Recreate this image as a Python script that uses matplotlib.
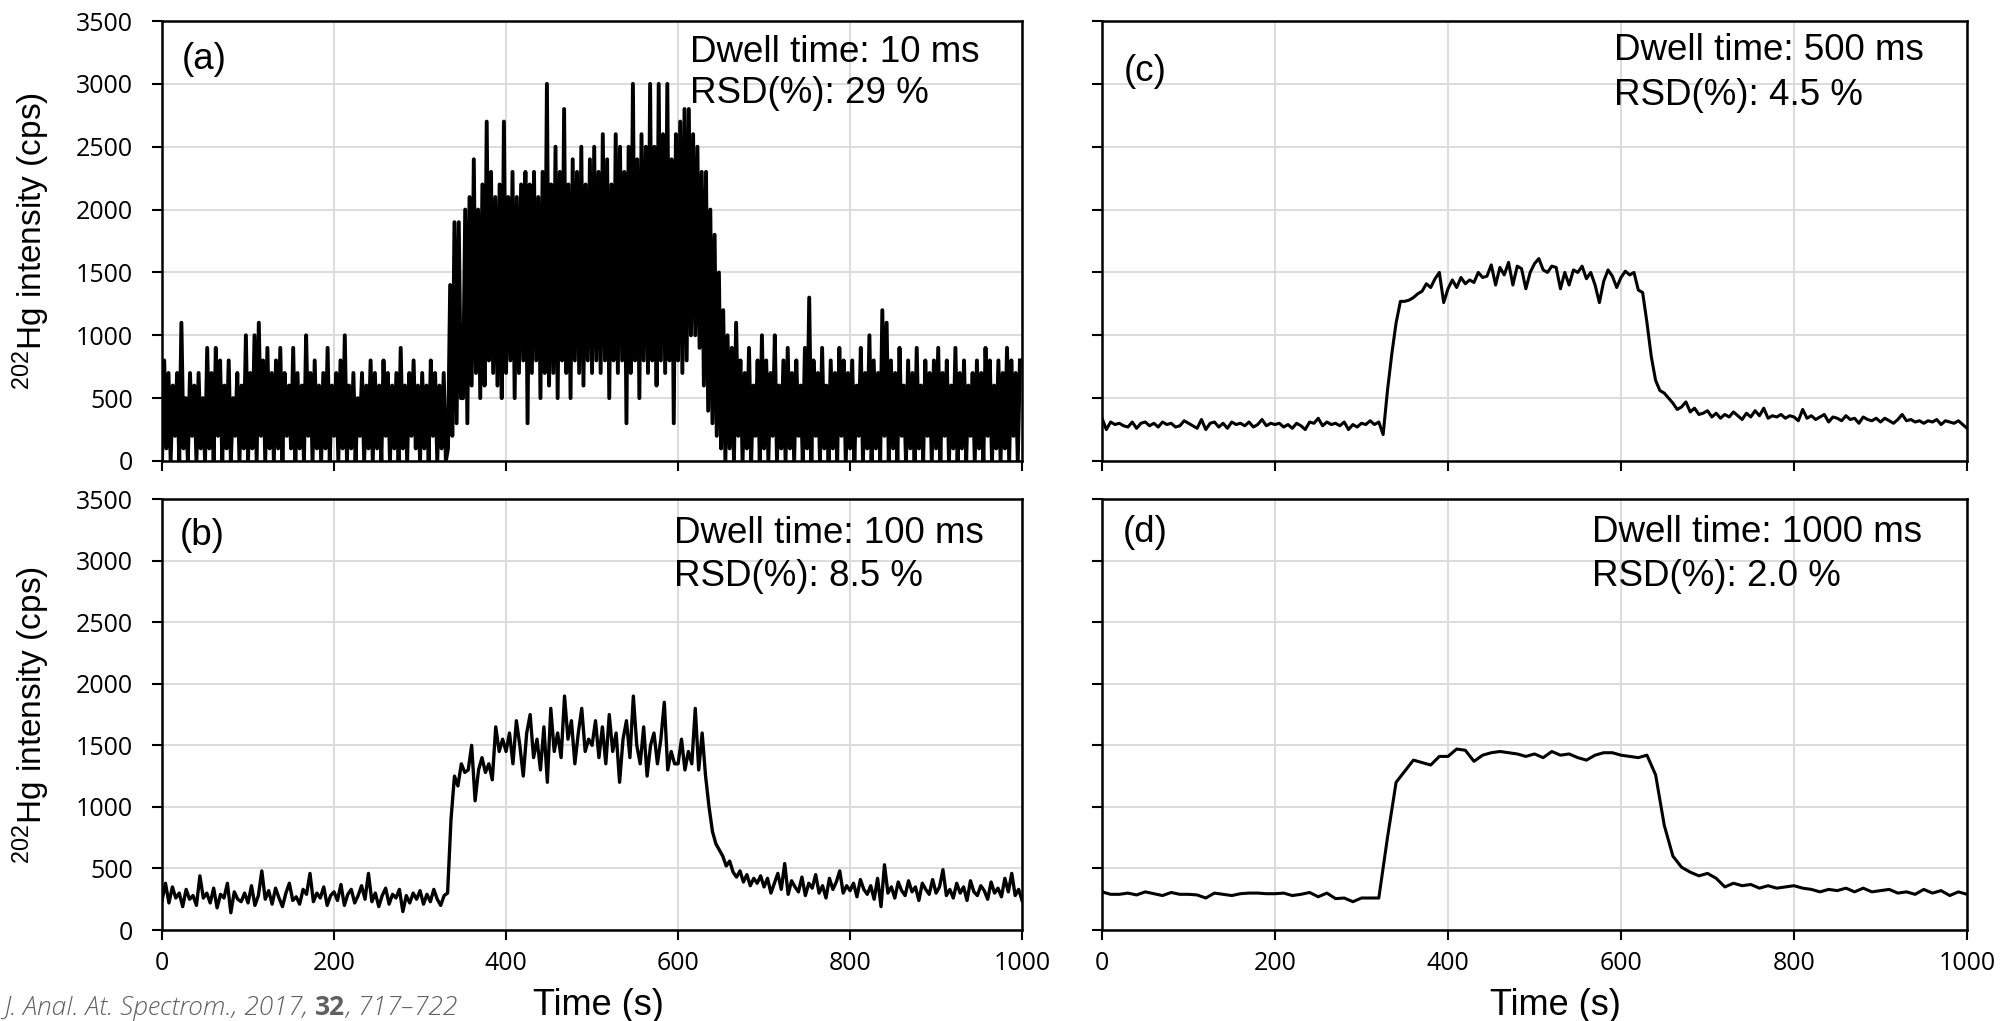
import numpy as np
import matplotlib
matplotlib.use('Agg')
import matplotlib.pyplot as plt

plt.rcParams['font.family'] = ['Liberation Sans', 'DejaVu Sans']
plt.rcParams['mathtext.fontset'] = 'custom'
plt.rcParams['mathtext.rm'] = 'Liberation Sans'
plt.rcParams['mathtext.default'] = 'regular'

# 202Hg signal, dwell 10 ms -- read in steps of 100 cps, one value every 2.5 s
hg_10ms = [
    0, 8, 1, 7, 0, 6, 2, 7, 0, 11, 1, 5, 0, 7, 2, 6, 0, 7, 1, 5,
    0, 9, 1, 7, 0, 9, 2, 8, 0, 6, 1, 8, 0, 5, 2, 7, 0, 6, 1, 10,
    0, 7, 1, 10, 0, 11, 2, 8, 0, 9, 1, 7, 0, 8, 1, 9, 0, 7, 2, 6,
    1, 9, 0, 7, 1, 6, 0, 10, 2, 7, 0, 8, 1, 6, 0, 7, 1, 9, 0, 6,
    2, 7, 0, 8, 1, 10, 0, 6, 1, 7, 0, 5, 2, 7, 0, 6, 1, 8, 0, 7,
    1, 6, 0, 8, 2, 7, 0, 6, 1, 7, 0, 9, 1, 6, 0, 7, 2, 8, 1, 6,
    0, 7, 1, 6, 0, 8, 2, 7, 0, 6, 1, 7, 0, 1, 14, 2, 19, 3, 19, 5,
    5, 20, 3, 21, 6, 24, 7, 20, 5, 22, 6, 27, 8, 23, 7, 21, 6, 22, 5, 27,
    7, 21, 8, 23, 5, 21, 7, 22, 8, 23, 3, 22, 7, 23, 8, 21, 5, 23, 7, 30,
    6, 22, 7, 25, 5, 23, 8, 28, 7, 22, 5, 24, 8, 23, 7, 25, 6, 22, 8, 24,
    7, 25, 8, 23, 7, 26, 8, 24, 5, 22, 8, 26, 7, 25, 8, 23, 3, 25, 7, 30,
    8, 24, 5, 26, 8, 25, 7, 30, 8, 25, 6, 30, 8, 26, 7, 30, 8, 24, 3, 26,
    8, 27, 7, 28, 8, 28, 10, 26, 10, 25, 9, 23, 6, 23, 4, 20, 3, 18, 2, 15,
    1, 12, 0, 10, 1, 9, 0, 11, 2, 8, 0, 7, 1, 9, 0, 6, 2, 8, 0, 10,
    1, 8, 0, 7, 2, 10, 0, 6, 1, 8, 0, 9, 1, 7, 0, 8, 2, 6, 0, 9,
    1, 13, 0, 8, 2, 7, 0, 9, 1, 6, 0, 8, 1, 7, 0, 9, 2, 8, 0, 7,
    1, 8, 0, 6, 2, 9, 0, 7, 1, 10, 0, 8, 1, 7, 0, 12, 2, 11, 0, 8,
    1, 7, 0, 9, 2, 6, 0, 8, 1, 7, 0, 9, 1, 6, 0, 8, 2, 7, 0, 8,
    1, 9, 0, 7, 2, 8, 0, 6, 1, 9, 0, 7, 1, 8, 0, 6, 2, 7, 0, 8,
    1, 7, 0, 9, 2, 8, 0, 6, 1, 8, 0, 7, 1, 9, 0, 8, 2, 7, 0, 8,
]

# dwell 100 ms, cps, one value every 4 s
hg_100ms = [
    240, 380, 220, 350, 260, 300, 190, 330, 250, 280, 200, 440, 260, 300, 220, 340, 180, 290, 260, 380, 140, 310, 250, 230, 300,
    220, 360, 200, 280, 480, 250, 320, 210, 340, 260, 190, 300, 380, 240, 270, 210, 330, 290, 460, 230, 300, 260, 350, 200, 280,
    310, 240, 370, 200, 290, 330, 220, 280, 360, 250, 460, 230, 300, 190, 280, 340, 210, 290, 260, 330, 150, 280, 220, 300, 250,
    320, 210, 290, 230, 330, 250, 200, 280, 300, 900, 1250, 1170, 1350, 1280, 1300, 1500, 1050, 1300, 1400, 1280, 1350, 1220, 1650, 1450, 1550,
    1450, 1600, 1350, 1700, 1500, 1250, 1600, 1750, 1400, 1550, 1300, 1650, 1200, 1800, 1450, 1600, 1400, 1900, 1550, 1700, 1350, 1600, 1800, 1450, 1550,
    1500, 1700, 1400, 1650, 1350, 1750, 1450, 1600, 1200, 1550, 1700, 1400, 1900, 1500, 1350, 1650, 1250, 1500, 1600, 1350, 1550, 1850, 1300, 1450, 1350,
    1350, 1550, 1300, 1450, 1350, 1800, 1300, 1600, 1250, 1000, 800, 700, 650, 600, 520, 560, 470, 430, 480, 390, 450, 360, 420, 380, 440,
    350, 420, 300, 380, 460, 330, 540, 290, 400, 350, 310, 430, 280, 380, 340, 450, 300, 360, 260, 420, 330, 390, 480, 300, 360,
    320, 380, 270, 410, 330, 290, 360, 250, 420, 190, 530, 300, 350, 260, 390, 320, 280, 400, 310, 350, 240, 380, 330, 290, 410,
    300, 350, 490, 280, 330, 260, 380, 300, 350, 240, 400, 310, 280, 360, 320, 250, 390, 300, 340, 270, 420, 310, 460, 280, 330,
    240,
]

# dwell 500 ms, cps, one value every 5 s
hg_500ms = [
    340, 250, 310, 290, 300, 280, 270, 310, 260, 300, 310, 280, 300, 270, 310, 290, 300, 270, 280, 320,
    300, 280, 260, 330, 250, 300, 310, 270, 300, 260, 310, 290, 300, 280, 310, 270, 290, 330, 280, 300,
    290, 300, 270, 290, 260, 300, 280, 250, 310, 300, 340, 280, 310, 290, 300, 280, 310, 250, 290, 270,
    300, 290, 320, 290, 310, 210, 560, 850, 1100, 1270, 1270, 1280, 1300, 1330, 1350, 1410, 1380, 1450, 1500, 1260,
    1370, 1440, 1380, 1460, 1410, 1440, 1420, 1500, 1460, 1470, 1560, 1400, 1540, 1480, 1580, 1400, 1550, 1530, 1370, 1500,
    1570, 1610, 1520, 1500, 1550, 1540, 1370, 1500, 1400, 1520, 1500, 1550, 1450, 1500, 1400, 1260, 1430, 1520, 1470, 1380,
    1460, 1510, 1480, 1500, 1360, 1340, 1100, 830, 640, 560, 540, 500, 460, 410, 430, 470, 390, 420, 370, 380,
    400, 350, 380, 340, 370, 350, 390, 360, 330, 380, 350, 400, 360, 420, 340, 360, 350, 370, 340, 360,
    350, 320, 410, 340, 360, 330, 350, 370, 310, 350, 340, 320, 360, 330, 340, 300, 350, 330, 320, 340,
    310, 340, 320, 300, 330, 370, 320, 330, 310, 320, 300, 320, 310, 330, 290, 320, 310, 300, 320, 290,
    260,
]

# dwell 1000 ms, cps, one value every 10 s
hg_1000ms = [
    310, 290, 290, 300, 285, 310, 295, 280, 305, 290,
    290, 285, 260, 300, 290, 280, 295, 300, 300, 295,
    295, 300, 280, 290, 305, 270, 300, 255, 260, 230,
    260, 260, 260, 750, 1200, 1290, 1380, 1360, 1340, 1410,
    1410, 1470, 1460, 1370, 1420, 1440, 1450, 1440, 1430, 1410,
    1430, 1400, 1450, 1420, 1430, 1400, 1380, 1420, 1440, 1440,
    1420, 1410, 1400, 1420, 1260, 850, 600, 510, 470, 440,
    460, 420, 350, 380, 360, 370, 340, 360, 340, 350,
    360, 340, 330, 310, 330, 320, 340, 310, 340, 310,
    320, 330, 300, 310, 290, 330, 300, 320, 280, 310,
    290,
]

t_10 = np.arange(len(hg_10ms)) * 2.5
t_100 = np.arange(len(hg_100ms)) * 4.0
t_500 = np.arange(len(hg_500ms)) * 5.0
t_1000 = np.arange(len(hg_1000ms)) * 10.0

letters = ['(a)', '(b)', '(c)', '(d)']
dwell = ['Dwell time: 10 ms', 'Dwell time: 100 ms', 'Dwell time: 500 ms', 'Dwell time: 1000 ms']
rsd = ['RSD(%): 29 %', 'RSD(%): 8.5 %', 'RSD(%): 4.5 %', 'RSD(%): 2.0 %']

series = [(t_10, np.array(hg_10ms) * 100), (t_100, hg_100ms),
          (t_500, hg_500ms), (t_1000, hg_1000ms)]
widths = [2.8, 2.4, 2.2, 2.2]

# panel boxes in figure fractions: a (top-left), b, c (top-right), d
boxes = [[0.0807, 0.5485, 0.4283, 0.4309], [0.0807, 0.0891, 0.4283, 0.4221],
         [0.5488, 0.5485, 0.4308, 0.4309], [0.5488, 0.0891, 0.4308, 0.4221]]
letter_pos = [(0.023, 0.891), (0.021, 0.893), (0.025, 0.864), (0.024, 0.900)]
text_pos = [(0.614, 0.9075, 0.8136), (0.595, 0.8986, 0.798),
            (0.592, 0.911, 0.809), (0.566, 0.900, 0.798)]

fig = plt.figure(figsize=(20.08, 10.21), dpi=100)

for i in range(4):
    ax = fig.add_axes(boxes[i])
    t, y = series[i]
    ax.plot(t, y, color='black', lw=widths[i], zorder=3)
    ax.set_xlim(0, 1000)
    ax.set_ylim(0, 3500)
    ax.set_xticks(np.arange(0, 1001, 200))
    ax.set_yticks(np.arange(0, 3501, 500))
    ax.grid(True, color='#d9d9d9', lw=1.3)
    ax.set_axisbelow(True)
    for s in ax.spines.values():
        s.set_linewidth(1.8)
    ax.tick_params(direction='out', length=7, width=1.5, labelsize=18,
                   labelfontfamily='Open Sans')
    ax.tick_params(axis='y', pad=14)
    ax.tick_params(axis='x', pad=8)
    if i in (0, 2):
        ax.tick_params(axis='x', labelbottom=False)
    if i in (2, 3):
        ax.tick_params(axis='y', labelleft=False)
    if i in (0, 1):
        ax.set_ylabel(r'$^{202}$Hg intensity (cps)', fontsize=24)
        ax.yaxis.set_label_coords(-0.128, 0.5)
    if i in (1, 3):
        ax.set_xlabel('Time (s)', fontsize=26)
        ax.xaxis.set_label_coords(0.507 if i == 1 else 0.524, -0.134)
    lx, ly = letter_pos[i]
    ax.text(lx, ly, letters[i], transform=ax.transAxes, fontsize=26.5, va='baseline')
    tx, ty1, ty2 = text_pos[i]
    ax.text(tx, ty1, dwell[i], transform=ax.transAxes, fontsize=26.5, va='baseline')
    ax.text(tx, ty2, rsd[i], transform=ax.transAxes, fontsize=26.5, va='baseline')

# source line, bottom left
r = fig.canvas.get_renderer()
W = fig.bbox.width
x0, y0 = 4 / W, 1 - 1015 / 1021
cite = [('J. Anal. At. Spectrom., 2017, ', 'italic', 'light'),
        ('32', 'normal', 'bold'),
        (', 717\u2013722', 'italic', 'light')]
for txt, st, wt in cite:
    tt = fig.text(x0, y0, txt, fontsize=19, style=st, weight=wt,
                  family='Open Sans', color='#606060', va='baseline')
    x0 = tt.get_window_extent(r).x1 / W

fig.savefig('out.png', dpi=100)
